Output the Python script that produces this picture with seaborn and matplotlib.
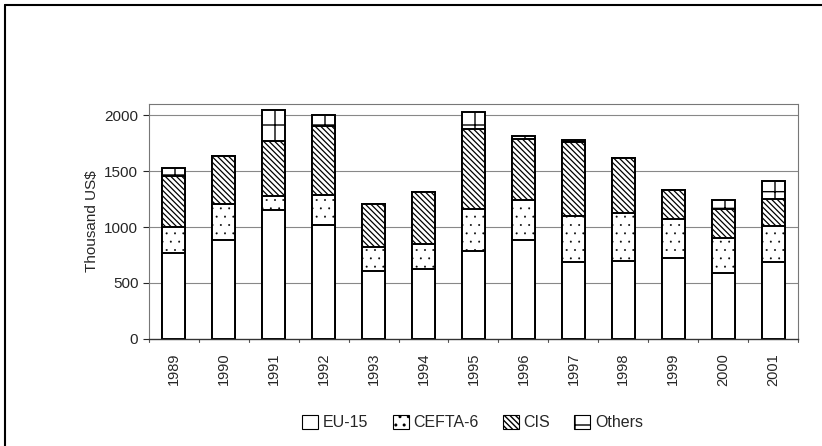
import pandas as pd
import seaborn as sns
import matplotlib.pyplot as plt
from matplotlib.patches import Patch
from matplotlib.lines import Line2D

# Data (thousand US$)
years = ['1989', '1990', '1991', '1992', '1993', '1994', '1995',
         '1996', '1997', '1998', '1999', '2000', '2001']
eu15 = [770, 882, 1153, 1022, 611, 626, 784, 888, 688, 700, 727, 587, 688]
cefta6 = [230, 325, 128, 262, 214, 223, 381, 352, 415, 426, 346, 316, 319]
cis = [455, 426, 489, 617, 382, 462, 712, 548, 655, 492, 256, 262, 245]
others = [75, 0, 280, 99, 0, 0, 149, 24, 18, 0, 0, 75, 158]

series = ['EU-15', 'CEFTA-6', 'CIS', 'Others']
hatches = ['', '..', '\\\\\\\\\\\\', '+']
hatch_lw = [0.5, 0.2, 0.9, 1.0]

df = pd.DataFrame({'year': years, 'EU-15': eu15, 'CEFTA-6': cefta6,
                   'CIS': cis, 'Others': others})
cum = df[series].cumsum(axis=1)
cum['year'] = df['year']

sns.set_style('white')
plt.rcParams['font.family'] = ['Liberation Sans', 'DejaVu Sans']

fig = plt.figure(figsize=(8.22, 4.46), dpi=100)
ax = fig.add_axes([0.181, 0.240, 0.790, 0.527])

# draw from the top layer down so each lower layer covers the one above
for name, h, hl in reversed(list(zip(series, hatches, hatch_lw))):
    with plt.rc_context({'hatch.linewidth': hl}):
        sns.barplot(data=cum, x='year', y=name, color='white',
                    edgecolor='black', linewidth=1.4, width=0.46, ax=ax,
                    hatch=h)

for y in [500, 1000, 1500, 2000]:
    ax.axhline(y, color='#888888', linewidth=0.8, zorder=0)

ax.set_ylim(0, 2100)
ax.set_xlim(-0.5, len(years) - 0.5)
ax.set_yticks([0, 500, 1000, 1500, 2000])
ax.set_ylabel('Thousand US$', fontsize=11)
ax.set_xlabel('')
ax.tick_params(axis='y', labelsize=11, length=4, left=True, direction='out')
ax.tick_params(axis='x', labelsize=10.5, rotation=90, length=0, pad=10)
# ticks between categories
for i in range(len(years) + 1):
    ax.plot([i - 0.5, i - 0.5], [0, -25], color='#555555', linewidth=0.8,
            clip_on=False)

for side in ['top', 'right', 'left']:
    ax.spines[side].set_linestyle((0, (2, 1)))
    ax.spines[side].set_color('#777777')
    ax.spines[side].set_linewidth(0.8)
ax.spines['bottom'].set_color('#333333')
ax.spines['bottom'].set_linewidth(1.0)

handles = []
for h, hl in zip(hatches, hatch_lw):
    with plt.rc_context({'hatch.linewidth': hl}):
        handles.append(Patch(facecolor='white', edgecolor='black', hatch=h,
                             linewidth=0.8))
fig.legend(handles, series, loc='center', bbox_to_anchor=(0.575, 0.053),
           ncol=4, frameon=False, fontsize=11.5, handlelength=1.0,
           handleheight=1.0, handletextpad=0.3, columnspacing=1.5)

# outer frame (top and left edges visible)
fig.add_artist(Line2D([5 / 822, 5 / 822], [0, 1 - 5 / 446],
                      transform=fig.transFigure, color='black', linewidth=1.5))
fig.add_artist(Line2D([5 / 822, 1], [1 - 5 / 446, 1 - 5 / 446],
                      transform=fig.transFigure, color='black', linewidth=1.5))

fig.savefig('out.png', dpi=100)
